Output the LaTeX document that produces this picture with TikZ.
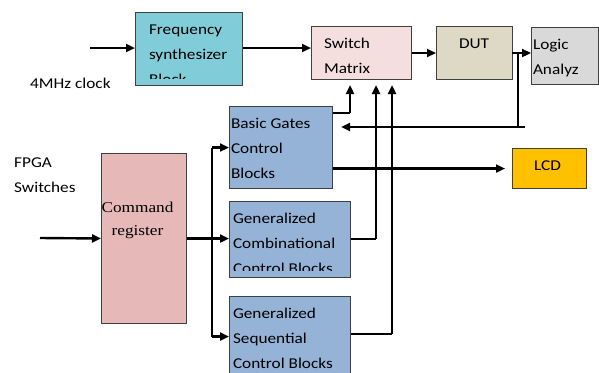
\documentclass[tikz,border=0pt]{standalone}
\usepackage{fontspec}
\setmainfont{Carlito}[FakeStretch=1.15]
\newfontfamily\regfont{Liberation Serif}[FakeStretch=1.15]
\usetikzlibrary{arrows.meta,calc}
\definecolor{freqc}{RGB}{128,204,216}
\definecolor{swc}{RGB}{244,222,222}
\definecolor{dutc}{RGB}{221,217,196}
\definecolor{lac}{RGB}{217,217,217}
\definecolor{ctlc}{RGB}{149,179,215}
\definecolor{lcdc}{RGB}{255,192,0}
\definecolor{cmdc}{RGB}{230,184,183}
\tikzset{
  blk/.style={draw=black!75,line width=1pt,anchor=north west,inner sep=0pt},
  inl/.style={draw=none,fill=none,inner sep=0pt,minimum width=0pt,minimum height=0pt},
  lines/.style 2 args={path picture={
      \clip ([yshift=7pt]path picture bounding box.south west) rectangle (path picture bounding box.north east);
      \foreach \t [count=\i] in {#2}
        \node[inl,anchor=base west]
          at ([shift={(#1,{22+25*(\i-1)})}]path picture bounding box.north west) {\t};}},
  arr/.style={line width=2.4pt,-{Triangle[length=9pt,width=8pt]}},
  slim/.style={line width=1.2pt}
}

\begin{document}
\begin{tikzpicture}[x=1pt,y=-1pt,font=\fontsize{15}{25}\selectfont]
  \clip (0,0) rectangle (599,372);
  % blocks
  \node[blk,fill=freqc,minimum width=107pt,minimum height=73pt,lines={13}{Frequency,synthesizer,Block}] (freq) at (135,12) {};
  \node[blk,fill=swc,minimum width=100pt,minimum height=53pt,lines={12}{Switch,Matrix}] (sw) at (311,26) {};
  \node[blk,fill=dutc,minimum width=76pt,minimum height=53pt,lines={22}{DUT}] (dut) at (436,26) {};
  \node[blk,fill=lac,minimum width=67pt,minimum height=57pt,lines={1}{Logic,Analyz}] (la) at (531,27) {};
  \node[blk,fill=ctlc,minimum width=103pt,minimum height=82pt,lines={1}{Basic Gates,Control,Blocks}] (basic) at (229,106) {};
  \node[blk,fill=lcdc,minimum width=74pt,minimum height=40pt,lines={21}{LCD}] (lcd) at (512,148) {};
  \node[blk,fill=cmdc,minimum width=85pt,minimum height=170pt,path picture={
      \node[inl,anchor=base,font=\regfont\fontsize{15}{23}\selectfont]
        at ([shift={(-6.5,59)}]path picture bounding box.north) {Command};
      \node[inl,anchor=base,font=\regfont\fontsize{15}{23}\selectfont]
        at ([shift={(-6.5,82)}]path picture bounding box.north) {register};}] (cmd) at (101,153) {};
  \node[blk,fill=ctlc,minimum width=121pt,minimum height=76pt,lines={3}{Generalized,Combinational,Control Blocks}] (comb) at (229,201) {};
  \node[blk,fill=ctlc,minimum width=121pt,minimum height=80pt,lines={3}{Generalized,Sequential,Control Blocks}] (seq) at (229,296) {};
  % free texts
  \node[inner sep=0pt,anchor=base west] (clk) at (30,88) {4MHz clock};
  \node[inner sep=0pt,anchor=north west,align=left] (fpga) at (14,158) {FPGA\\Switches};
  % top row
  \coordinate (clkin) at (90,48);
  \draw[arr] (clkin) -- (clkin -| freq.west);
  \draw[arr] (freq.east |- clkin) -- (clkin -| sw.west);
  \draw[arr] (sw) -- (dut);
  \coordinate (dutout) at (512,53);
  \draw[arr] (dutout) -- (dutout -| la.west);
  % feedback from DUT
  \coordinate (fbtop) at (518,53);
  \coordinate (fb) at (525,127);
  \draw[slim] (fbtop) -- (fbtop |- fb);
  \draw[arr] (fb) -- ([xshift=8pt]basic.east |- fb);
  % control blocks up to switch matrix
  \coordinate (up1) at (350,113);
  \coordinate (up2) at (376,239);
  \coordinate (up3) at (392,334);
  \draw[slim] (basic.east |- up1) -- (up1);
  \draw[slim] (comb.east |- up2) -- (up2);
  \draw[slim] (seq.east |- up3) -- (up3);
  \foreach \u in {up1,up2,up3}
    \draw[arr] (\u) -- ([yshift=-5pt]sw.south -| \u);
  % to LCD
  \draw[arr] (basic.east |- lcd.west) -- ([xshift=-7pt]lcd.west);
  % command register
  \coordinate (cmdin) at (40,238);
  \draw[arr] (cmdin) -- (cmd.west);
  \draw[arr] (cmd.east) -- (cmd.east -| comb.west);
  \coordinate (br) at (212,238);
  \draw[slim] (br |- basic.west) -- (br |- seq.west);
  \draw[arr] (br |- basic.west) -- (basic.west);
  \draw[arr] (br |- seq.west) -- (seq.west);
\end{tikzpicture}
\end{document}
